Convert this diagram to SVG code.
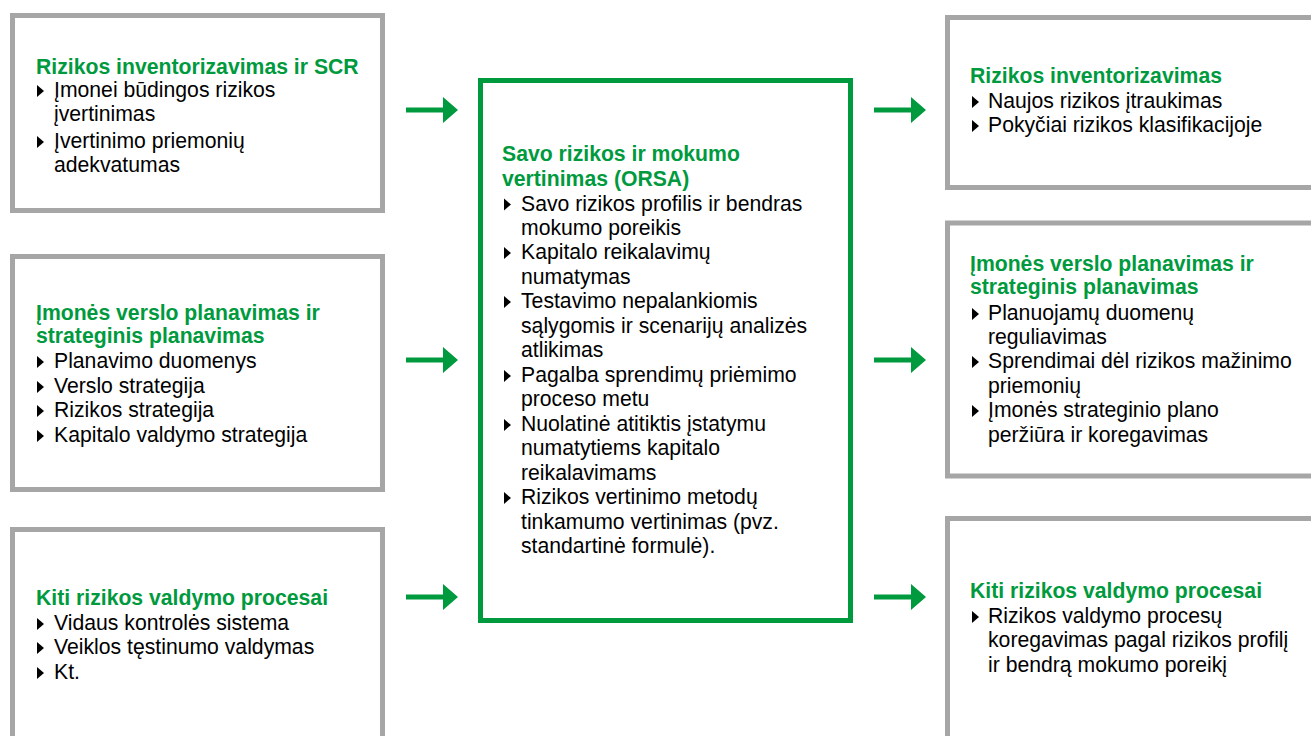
<svg xmlns="http://www.w3.org/2000/svg" width="1311" height="736" viewBox="0 0 1311 736">
<defs>
<style>
.box{fill:#fff;stroke:#a6a6a6;stroke-width:5}
.cbox{fill:#fff;stroke:#009a3e;stroke-width:5}
text{font-family:"Liberation Sans",Arial,sans-serif;font-size:21.2px;fill:#000}
.h{font-weight:bold;fill:#009a3e}
.arr{fill:#009a3e}
</style>
<path id="tri" d="M0,-12 L7,-6 L0,0 Z" fill="#000"/>
<path id="arrow" d="M0,-2.5 H37 V-13 L52,0 L37,13 V2.5 H0 Z"/>
</defs>
<rect width="1311" height="736" fill="#fff"/>

<g id="connectors" class="arr">
<use href="#arrow" x="406" y="110"/>
<use href="#arrow" x="406" y="360"/>
<use href="#arrow" x="406" y="597"/>
<use href="#arrow" x="874" y="110"/>
<use href="#arrow" x="874" y="360"/>
<use href="#arrow" x="874" y="597"/>
</g>

<g id="left1">
<rect class="box" x="12.5" y="15.5" width="370" height="195"/>
<text class="h" x="36" y="74">Rizikos inventorizavimas ir SCR</text>
<use href="#tri" x="37" y="97"/>
<text x="54" y="97">Įmonei būdingos rizikos</text>
<text x="54" y="121">įvertinimas</text>
<use href="#tri" x="37" y="148"/>
<text x="54" y="148">Įvertinimo priemonių</text>
<text x="54" y="172">adekvatumas</text>
</g>

<g id="left2">
<rect class="box" x="12.5" y="256.5" width="370" height="233"/>
<text class="h" x="36" y="320">Įmonės verslo planavimas ir</text>
<text class="h" x="36" y="343">strateginis planavimas</text>
<use href="#tri" x="37" y="368"/>
<text x="54" y="368">Planavimo duomenys</text>
<use href="#tri" x="37" y="393"/>
<text x="54" y="393">Verslo strategija</text>
<use href="#tri" x="37" y="417"/>
<text x="54" y="417">Rizikos strategija</text>
<use href="#tri" x="37" y="442"/>
<text x="54" y="442">Kapitalo valdymo strategija</text>
</g>

<g id="left3">
<rect class="box" x="12.5" y="529.5" width="370" height="260"/>
<text class="h" x="36" y="605">Kiti rizikos valdymo procesai</text>
<use href="#tri" x="37" y="630"/>
<text x="54" y="630">Vidaus kontrolės sistema</text>
<use href="#tri" x="37" y="654"/>
<text x="54" y="654">Veiklos tęstinumo valdymas</text>
<use href="#tri" x="37" y="679"/>
<text x="54" y="679">Kt.</text>
</g>

<g id="center">
<rect class="cbox" x="480.5" y="80.5" width="370" height="540"/>
<text class="h" x="502" y="161">Savo rizikos ir mokumo</text>
<text class="h" x="502" y="186">vertinimas (ORSA)</text>
<use href="#tri" x="504" y="210.5"/>
<text x="521" y="210.5">Savo rizikos profilis ir bendras</text>
<text x="521" y="235">mokumo poreikis</text>
<use href="#tri" x="504" y="259"/>
<text x="521" y="259">Kapitalo reikalavimų</text>
<text x="521" y="283.5">numatymas</text>
<use href="#tri" x="504" y="308"/>
<text x="521" y="308">Testavimo nepalankiomis</text>
<text x="521" y="333">sąlygomis ir scenarijų analizės</text>
<text x="521" y="357">atlikimas</text>
<use href="#tri" x="504" y="382"/>
<text x="521" y="382">Pagalba sprendimų priėmimo</text>
<text x="521" y="406">proceso metu</text>
<use href="#tri" x="504" y="431"/>
<text x="521" y="431">Nuolatinė atitiktis įstatymu</text>
<text x="521" y="455">numatytiems kapitalo</text>
<text x="521" y="480">reikalavimams</text>
<use href="#tri" x="504" y="504"/>
<text x="521" y="504">Rizikos vertinimo metodų</text>
<text x="521" y="529">tinkamumo vertinimas (pvz.</text>
<text x="521" y="553">standartinė formulė).</text>
</g>

<g id="right1">
<rect class="box" x="947.5" y="17.5" width="400" height="170"/>
<text class="h" x="970" y="83">Rizikos inventorizavimas</text>
<use href="#tri" x="972" y="108"/>
<text x="988" y="108">Naujos rizikos įtraukimas</text>
<use href="#tri" x="972" y="132"/>
<text x="988" y="132">Pokyčiai rizikos klasifikacijoje</text>
</g>

<g id="right2">
<rect class="box" x="947.5" y="223" width="400" height="253"/>
<text class="h" x="970" y="271">Įmonės verslo planavimas ir</text>
<text class="h" x="970" y="294">strateginis planavimas</text>
<use href="#tri" x="972" y="320"/>
<text x="988" y="320">Planuojamų duomenų</text>
<text x="988" y="344">reguliavimas</text>
<use href="#tri" x="972" y="368"/>
<text x="988" y="368">Sprendimai dėl rizikos mažinimo</text>
<text x="988" y="393">priemonių</text>
<use href="#tri" x="972" y="417"/>
<text x="988" y="417">Įmonės strateginio plano</text>
<text x="988" y="442">peržiūra ir koregavimas</text>
</g>

<g id="right3">
<rect class="box" x="947.5" y="518.5" width="400" height="260"/>
<text class="h" x="970" y="598">Kiti rizikos valdymo procesai</text>
<use href="#tri" x="972" y="623"/>
<text x="988" y="623">Rizikos valdymo procesų</text>
<text x="988" y="647">koregavimas pagal rizikos profilį</text>
<text x="988" y="672">ir bendrą mokumo poreikį</text>
</g>
</svg>
